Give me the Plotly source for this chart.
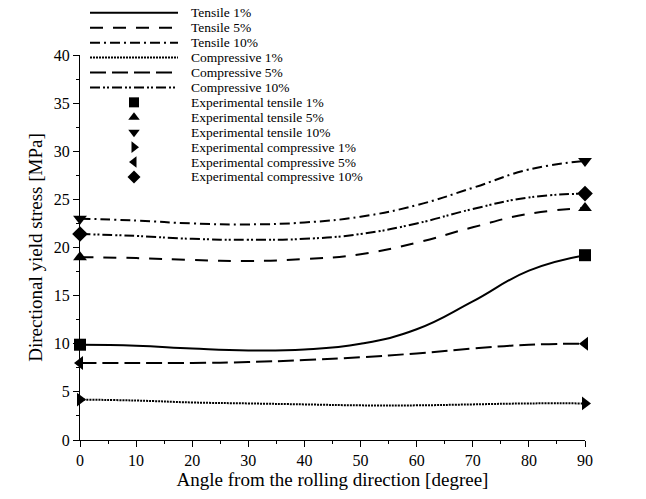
import plotly.graph_objects as go

# ---------------- data ----------------
angles = [0, 10, 20, 30, 40, 50, 60, 70, 80, 90]
tensile_1 = [9.9, 9.8, 9.5, 9.3, 9.4, 10.0, 11.5, 14.4, 17.6, 19.2]
tensile_5 = [19.0, 18.9, 18.7, 18.6, 18.8, 19.3, 20.5, 22.1, 23.5, 24.1]
tensile_10 = [23.0, 22.8, 22.5, 22.4, 22.6, 23.2, 24.4, 26.2, 28.1, 29.0]
compressive_1 = [4.2, 4.1, 3.9, 3.8, 3.7, 3.6, 3.6, 3.7, 3.8, 3.8]
compressive_5 = [8.0, 8.0, 8.0, 8.1, 8.3, 8.6, 9.0, 9.5, 9.9, 10.0]
compressive_10 = [21.4, 21.2, 20.9, 20.8, 20.9, 21.4, 22.5, 24.0, 25.2, 25.6]

exp_angles = [0, 90]
exp_tensile_1 = [9.9, 19.2]
exp_tensile_5 = [19.0, 24.1]
exp_tensile_10 = [23.0, 29.0]
exp_compressive_1 = [4.2, 3.8]
exp_compressive_5 = [8.0, 10.0]
exp_compressive_10 = [21.4, 25.6]

line_names = ["Tensile 1%", "Tensile 5%", "Tensile 10%",
              "Compressive 1%", "Compressive 5%", "Compressive 10%"]
exp_names = ["Experimental tensile 1%", "Experimental tensile 5%",
             "Experimental tensile 10%", "Experimental compressive 1%",
             "Experimental compressive 5%", "Experimental compressive 10%"]

x_ticks = [0, 10, 20, 30, 40, 50, 60, 70, 80, 90]
y_ticks = [0, 5, 10, 15, 20, 25, 30, 35, 40]

# ---------------- styles ----------------
line_series = [tensile_1, tensile_5, tensile_10, compressive_1, compressive_5, compressive_10]
dashes = ["solid", "13px,10px", "10px,4px,2px,4px", "2px,1px", "16px,6px",
          "10px,3px,2px,2px,2px,3px"]
exp_series = [exp_tensile_1, exp_tensile_5, exp_tensile_10,
              exp_compressive_1, exp_compressive_5, exp_compressive_10]
symbols = ["square", "triangle-up", "triangle-down", "triangle-right",
           "triangle-left", "diamond"]

FONT = "Liberation Serif"
W, H = 646, 499
ML, MR, MT, MB = 80, 61, 55, 52
PW, PH = W - ML - MR, H - MT - MB

fig = go.Figure()

for name, ys, dsh in zip(line_names, line_series, dashes):
    fig.add_trace(go.Scatter(
        x=angles, y=ys, mode="lines", name=name, showlegend=False,
        line=dict(color="black", width=2, dash=dsh, shape="spline", smoothing=1.3),
        cliponaxis=False))

for name, ys, sym in zip(exp_names, exp_series, symbols):
    fig.add_trace(go.Scatter(
        x=exp_angles, y=ys, mode="markers", name=name, showlegend=False,
        marker=dict(symbol=sym, size=12, color="black"),
        cliponaxis=False))

# ---------------- hand-drawn legend (compact rows) ----------------
def px_x(px):
    return (px - ML) / PW

def px_y(py):
    return (H - MB - py) / PH

row0, step = 12, 15.2
line_x0, line_x1, text_x, mark_x = 90, 178, 190, 134
all_names = line_names + exp_names
shapes = []
annotations = []
leg_mx, leg_my, leg_sym = [], [], []
for i, nm in enumerate(all_names):
    py = row0 + i * step
    if i < len(line_names):
        shapes.append(dict(type="line", xref="paper", yref="paper",
                           x0=px_x(line_x0), x1=px_x(line_x1),
                           y0=px_y(py), y1=px_y(py),
                           line=dict(color="black", width=2, dash=dashes[i])))
    else:
        leg_mx.append(px_x(mark_x))
        leg_my.append(px_y(py))
        leg_sym.append(symbols[i - len(line_names)])
    annotations.append(dict(xref="paper", yref="paper", x=px_x(text_x), y=px_y(py),
                            text=nm, showarrow=False, xanchor="left", yanchor="middle",
                            borderpad=0,
                            font=dict(family=FONT, size=13.5, color="black")))

fig.add_trace(go.Scatter(x=leg_mx, y=leg_my, mode="markers", xaxis="x2", yaxis="y2",
                         marker=dict(symbol=leg_sym, size=10, color="black"),
                         showlegend=False, cliponaxis=False, hoverinfo="skip"))

axis_common = dict(
    showline=True, linecolor="black", linewidth=1, showgrid=False, zeroline=False,
    ticks="outside", ticklen=6, tickcolor="black", tickwidth=1,
    tickfont=dict(family=FONT, size=16, color="black"),
)

fig.update_layout(
    width=W, height=H,
    margin=dict(l=ML, r=MR, t=MT, b=MB, pad=0),
    paper_bgcolor="white", plot_bgcolor="white",
    showlegend=False,
    xaxis=dict(range=[0, 90], tickvals=x_ticks,
               minor=dict(dtick=5, ticklen=3, ticks="outside", tickcolor="black"),
               title=dict(text="Angle from the rolling direction [degree]",
                          font=dict(family=FONT, size=19, color="black"), standoff=4),
               **axis_common),
    yaxis=dict(range=[0, 40], tickvals=y_ticks,
               minor=dict(dtick=2.5, ticklen=3, ticks="outside", tickcolor="black"),
               title=dict(text="Directional yield stress [MPa]",
                          font=dict(family=FONT, size=19, color="black"), standoff=6),
               **axis_common),
    xaxis2=dict(overlaying="x", range=[0, 1], visible=False),
    yaxis2=dict(overlaying="y", range=[0, 1], visible=False),
    shapes=shapes,
    annotations=annotations,
)

fig.write_html("out.html")
